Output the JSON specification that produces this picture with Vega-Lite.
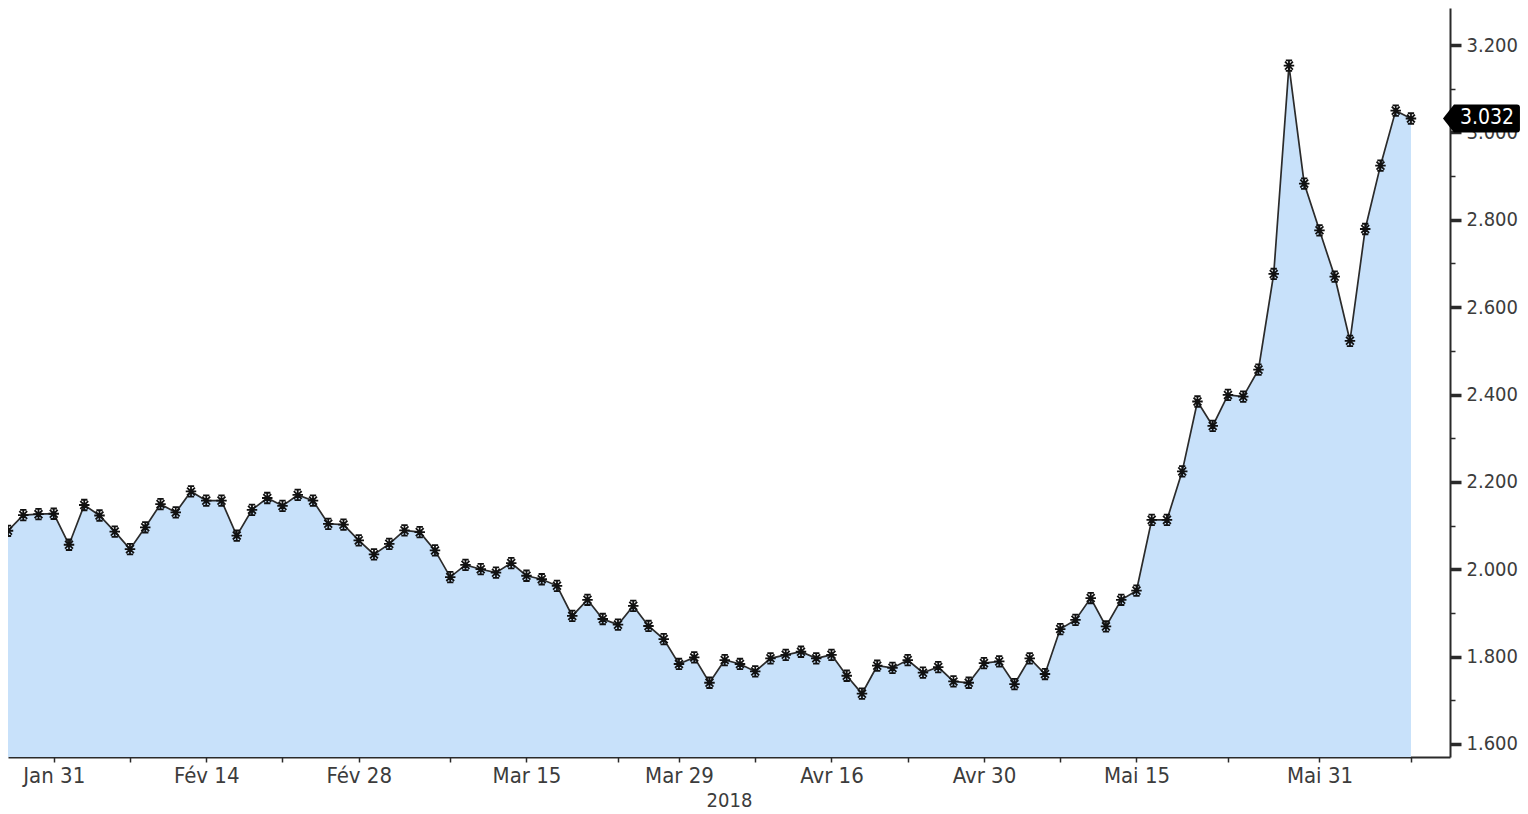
{
  "$schema": "https://vega.github.io/schema/vega-lite/v6.json",
  "width": 1442,
  "height": 749,
  "padding": {"left": 8, "top": 8, "right": 0, "bottom": 0},
  "background": "white",
  "config": {
    "view": {"stroke": null},
    "axis": {
      "labelFont": "DejaVu Sans Condensed, DejaVu Sans",
      "titleFont": "DejaVu Sans Condensed, DejaVu Sans",
      "labelColor": "#3c3c3c",
      "titleColor": "#3c3c3c",
      "domainColor": "#2a2a2a",
      "tickColor": "#2a2a2a",
      "grid": false
    }
  },
  "data": {
    "values": [
      {"date": "2018-01-26", "yield": 2.088},
      {"date": "2018-01-29", "yield": 2.124},
      {"date": "2018-01-30", "yield": 2.126},
      {"date": "2018-01-31", "yield": 2.127},
      {"date": "2018-02-01", "yield": 2.056},
      {"date": "2018-02-02", "yield": 2.147},
      {"date": "2018-02-05", "yield": 2.123},
      {"date": "2018-02-06", "yield": 2.086},
      {"date": "2018-02-07", "yield": 2.046},
      {"date": "2018-02-08", "yield": 2.096},
      {"date": "2018-02-09", "yield": 2.149},
      {"date": "2018-02-12", "yield": 2.130},
      {"date": "2018-02-13", "yield": 2.178},
      {"date": "2018-02-14", "yield": 2.157},
      {"date": "2018-02-15", "yield": 2.157},
      {"date": "2018-02-16", "yield": 2.077},
      {"date": "2018-02-19", "yield": 2.136},
      {"date": "2018-02-20", "yield": 2.163},
      {"date": "2018-02-21", "yield": 2.145},
      {"date": "2018-02-22", "yield": 2.170},
      {"date": "2018-02-23", "yield": 2.157},
      {"date": "2018-02-26", "yield": 2.104},
      {"date": "2018-02-27", "yield": 2.102},
      {"date": "2018-02-28", "yield": 2.066},
      {"date": "2018-03-01", "yield": 2.034},
      {"date": "2018-03-02", "yield": 2.058},
      {"date": "2018-03-05", "yield": 2.089},
      {"date": "2018-03-06", "yield": 2.085},
      {"date": "2018-03-07", "yield": 2.043},
      {"date": "2018-03-08", "yield": 1.982},
      {"date": "2018-03-09", "yield": 2.010},
      {"date": "2018-03-12", "yield": 2.000},
      {"date": "2018-03-13", "yield": 1.992},
      {"date": "2018-03-14", "yield": 2.014},
      {"date": "2018-03-15", "yield": 1.985},
      {"date": "2018-03-16", "yield": 1.977},
      {"date": "2018-03-19", "yield": 1.962},
      {"date": "2018-03-20", "yield": 1.893},
      {"date": "2018-03-21", "yield": 1.930},
      {"date": "2018-03-22", "yield": 1.886},
      {"date": "2018-03-23", "yield": 1.873},
      {"date": "2018-03-26", "yield": 1.916},
      {"date": "2018-03-27", "yield": 1.870},
      {"date": "2018-03-28", "yield": 1.840},
      {"date": "2018-03-29", "yield": 1.783},
      {"date": "2018-04-03", "yield": 1.798},
      {"date": "2018-04-04", "yield": 1.740},
      {"date": "2018-04-05", "yield": 1.792},
      {"date": "2018-04-06", "yield": 1.783},
      {"date": "2018-04-09", "yield": 1.766},
      {"date": "2018-04-10", "yield": 1.796},
      {"date": "2018-04-11", "yield": 1.804},
      {"date": "2018-04-12", "yield": 1.811},
      {"date": "2018-04-13", "yield": 1.796},
      {"date": "2018-04-16", "yield": 1.804},
      {"date": "2018-04-17", "yield": 1.756},
      {"date": "2018-04-18", "yield": 1.715},
      {"date": "2018-04-19", "yield": 1.779},
      {"date": "2018-04-20", "yield": 1.774},
      {"date": "2018-04-23", "yield": 1.792},
      {"date": "2018-04-24", "yield": 1.763},
      {"date": "2018-04-25", "yield": 1.776},
      {"date": "2018-04-26", "yield": 1.743},
      {"date": "2018-04-27", "yield": 1.740},
      {"date": "2018-04-30", "yield": 1.785},
      {"date": "2018-05-02", "yield": 1.789},
      {"date": "2018-05-03", "yield": 1.737},
      {"date": "2018-05-04", "yield": 1.796},
      {"date": "2018-05-07", "yield": 1.760},
      {"date": "2018-05-08", "yield": 1.863},
      {"date": "2018-05-09", "yield": 1.884},
      {"date": "2018-05-10", "yield": 1.934},
      {"date": "2018-05-11", "yield": 1.869},
      {"date": "2018-05-14", "yield": 1.930},
      {"date": "2018-05-15", "yield": 1.951},
      {"date": "2018-05-16", "yield": 2.113},
      {"date": "2018-05-17", "yield": 2.113},
      {"date": "2018-05-18", "yield": 2.224},
      {"date": "2018-05-21", "yield": 2.384},
      {"date": "2018-05-22", "yield": 2.328},
      {"date": "2018-05-23", "yield": 2.399},
      {"date": "2018-05-24", "yield": 2.395},
      {"date": "2018-05-25", "yield": 2.457},
      {"date": "2018-05-28", "yield": 2.676},
      {"date": "2018-05-29", "yield": 3.153},
      {"date": "2018-05-30", "yield": 2.883},
      {"date": "2018-05-31", "yield": 2.776},
      {"date": "2018-06-01", "yield": 2.670},
      {"date": "2018-06-04", "yield": 2.523},
      {"date": "2018-06-05", "yield": 2.779},
      {"date": "2018-06-06", "yield": 2.924},
      {"date": "2018-06-07", "yield": 3.050},
      {"date": "2018-06-08", "yield": 3.032}
    ]
  },
  "encoding": {
    "x": {
      "field": "date",
      "type": "ordinal",
      "scale": {"type": "point", "domain": {"unionWith": ["2018-06-11", "2018-06-12"]}, "padding": 0.28, "align": 0},
      "axis": {
        "title": "2018",
        "values": ["2018-01-31", "2018-02-07", "2018-02-14", "2018-02-21", "2018-02-28", "2018-03-08", "2018-03-15", "2018-03-23", "2018-03-29", "2018-04-09", "2018-04-16", "2018-04-23", "2018-04-30", "2018-05-08", "2018-05-15", "2018-05-23", "2018-05-31", "2018-06-08"],
        "labelExpr": "{'2018-01-31':'Jan 31','2018-02-14':'Fév 14','2018-02-28':'Fév 28','2018-03-15':'Mar 15','2018-03-29':'Mar 29','2018-04-16':'Avr 16','2018-04-30':'Avr 30','2018-05-15':'Mai 15','2018-05-31':'Mai 31'}[datum.value] || ''",
        "labelAngle": 0,
        "labelFontSize": 22,
        "labelPadding": 3,
        "labelOverlap": false,
        "tickSize": 5,
        "tickWidth": 1.5,
        "domainWidth": 2,
        "titleFontSize": 20,
        "titleFontWeight": "normal",
        "titlePadding": 4
      }
    },
    "y": {
      "field": "yield",
      "type": "quantitative",
      "scale": {"domain": [1.570, 3.285], "nice": false, "zero": false},
      "axis": {
        "orient": "right",
        "title": null,
        "values": [1.6, 1.7, 1.8, 1.9, 2.0, 2.1, 2.2, 2.3, 2.4, 2.5, 2.6, 2.7, 2.8, 2.9, 3.0, 3.1, 3.2],
        "labelExpr": "round(datum.value*10) % 2 == 0 ? format(datum.value, '.3f') : ''",
        "labelFontSize": 20,
        "labelPadding": 5,
        "tickSize": {"condition": {"test": "round(datum.value*10) % 2 == 0", "value": 11}, "value": 5},
        "tickWidth": {"condition": {"test": "round(datum.value*10) % 2 == 0", "value": 3.5}, "value": 1.5},
        "domainWidth": 2
      }
    }
  },
  "layer": [
    {"mark": {"type": "area", "color": "#c8e1fa", "clip": true}},
    {"mark": {"type": "line", "color": "#2b2b2b", "strokeWidth": 1.7, "clip": true}},
    {
      "mark": {
        "type": "point",
        "shape": "M-1,0L1,0M0,-1L0,1M-0.75,-0.75L0.75,0.75M-0.75,0.75L0.75,-0.75M-0.6,-1L0.6,-1M-0.6,1L0.6,1",
        "filled": false,
        "stroke": "#111111",
        "strokeWidth": 1.8,
        "size": 110,
        "opacity": 1,
        "clip": true
      }
    },
    {
      "transform": [{"filter": "datum.date == '2018-06-08'"}],
      "mark": {
        "type": "point",
        "shape": "M3.2,0L4.3,-1.4L10.6,-1.4Q10.9,-1.4 10.9,-1.1L10.9,1.1Q10.9,1.4 10.6,1.4L4.3,1.4Z",
        "filled": true,
        "fill": "#000000",
        "strokeWidth": 0,
        "size": 400,
        "opacity": 1
      }
    },
    {
      "transform": [{"filter": "datum.date == '2018-06-08'"}],
      "mark": {
        "type": "text",
        "dx": 76,
        "align": "center",
        "baseline": "middle",
        "color": "#ffffff",
        "fontSize": 21,
        "font": "DejaVu Sans Condensed, DejaVu Sans"
      },
      "encoding": {"text": {"field": "yield", "type": "quantitative", "format": ".3f"}}
    }
  ]
}
